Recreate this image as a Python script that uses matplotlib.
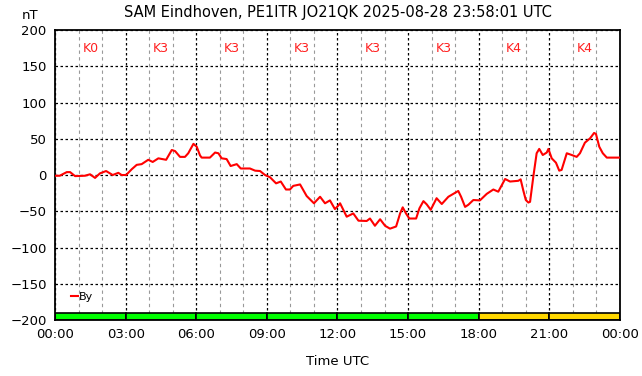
import matplotlib
matplotlib.use("Agg")
import matplotlib.pyplot as plt
import numpy as np

# By component trace (hours UTC, nT)
hours = [0.0, 0.2, 0.5, 0.64, 0.85, 1.27, 1.49, 1.70, 1.91, 2.17, 2.45, 2.69, 2.83, 3.02,
         3.26, 3.47, 3.68, 3.96, 4.15, 4.39, 4.72, 4.96, 5.10, 5.31, 5.52, 5.66, 5.88,
         6.02, 6.16, 6.23, 6.58, 6.80, 6.94, 7.08, 7.29, 7.46, 7.72, 7.89, 8.28, 8.50,
         8.71, 8.92, 9.13, 9.39, 9.59, 9.81, 9.98, 10.12, 10.41, 10.69, 11.0, 11.26,
         11.47, 11.68, 11.89, 12.04, 12.11, 12.39, 12.67, 12.89, 13.24, 13.38, 13.59,
         13.81, 14.02, 14.23, 14.49, 14.66, 14.77, 14.91, 15.05, 15.34, 15.48, 15.65,
         15.79, 15.96, 16.21, 16.43, 16.71, 16.92, 17.13, 17.25, 17.42, 17.56, 17.77,
         18.05, 18.34, 18.62, 18.83, 19.12, 19.33, 19.68, 19.78, 19.89, 20.0, 20.11,
         20.18, 20.32, 20.46, 20.57, 20.72, 20.89, 20.96, 21.1, 21.28, 21.42, 21.52,
         21.74, 21.95, 22.16, 22.30, 22.51, 22.73, 22.90, 22.98, 23.12, 23.27, 23.44, 24.0]
by_nt = [-1, -1, 4, 4, -1.5, -1, 1, -4, 2.3, 5.5, 0, 3, 0, 0,
         8, 14, 15, 21, 18, 23, 21, 34.5, 33, 25, 25, 30, 43,
         39, 27, 24, 24, 31, 30, 23, 22, 12.4, 15, 9, 9, 6,
         5.5, 0, -3, -11.5, -9, -20, -20, -15, -13, -29, -39, -30,
         -39, -35, -47, -42, -39, -57.5, -53, -63, -63.4, -60, -70,
         -61, -70, -74, -71, -53, -44.6, -53, -60, -60, -46, -36,
         -40.5, -48, -32, -40, -30, -26, -22, -30, -44, -41, -34.5,
         -35, -26, -20, -23, -5.5, -9, -8, -6, -21, -34.5, -38,
         -37, -2, 30, 36, 27.6, 31, 36, 23, 17, 6, 7,
         30, 27.6, 25, 30, 44.6, 50.6, 58, 56.6, 39, 30, 24, 24]

# Planetary K index per 3-hour block
k_index = [0, 3, 3, 3, 3, 3, 4, 4]
k_labels = ["K%d" % k for k in k_index]
tick_labels = ["00:00", "03:00", "06:00", "09:00", "12:00", "15:00", "18:00", "21:00", "00:00"]

fig = plt.figure(figsize=(6.42, 3.76), dpi=100)
ax = fig.add_axes([0.0857, 0.1489, 0.88, 0.7713])

ax.set_xlim(0, 24)
ax.set_ylim(-200, 200)

# K index bars along the bottom
for i, k in enumerate(k_index):
    col = "#00ff00" if k < 4 else "#ffd700"
    ax.bar(i * 3 + 1.5, 10, width=3, bottom=-200, color=col, edgecolor="black",
           linewidth=1.2, zorder=2)
    ax.text(i * 3 + 1.5, 174, k_labels[i], color="#ff2020", ha="center", va="center",
            fontsize=9, zorder=4)

# grid
ax.set_xticks(np.arange(0, 25, 3))
ax.set_xticks(np.arange(0, 25, 1), minor=True)
ax.set_yticks(np.arange(-200, 201, 50))
ax.grid(True, which="minor", axis="x", color="#999999", linestyle=(0, (3, 3)), linewidth=0.8)
ax.grid(True, which="major", axis="both", color="black", linestyle=(0, (2, 2)), linewidth=0.9)
ax.set_axisbelow(True)

ax.plot(hours, by_nt, color="#ff0000", linewidth=1.5, label="By", zorder=3)

ax.set_xticklabels(tick_labels)
ax.tick_params(which="both", length=0, labelsize=9.5, pad=6)
for s in ax.spines.values():
    s.set_linewidth(1.3)

ax.legend(loc="lower left", bbox_to_anchor=(0.015, 0.035), frameon=False, fontsize=8,
          handlelength=0.6, handletextpad=0.1, borderpad=0.2)

fig.text(0.5257, 0.968, "SAM Eindhoven, PE1ITR JO21QK 2025-08-28 23:58:01 UTC",
         ha="center", va="center", fontsize=10.5)
fig.text(0.047, 0.958, "nT", ha="center", va="center", fontsize=9.5)
ax.set_xlabel("Time UTC", fontsize=9.5, labelpad=10)

fig.savefig("out.png", dpi=100)
